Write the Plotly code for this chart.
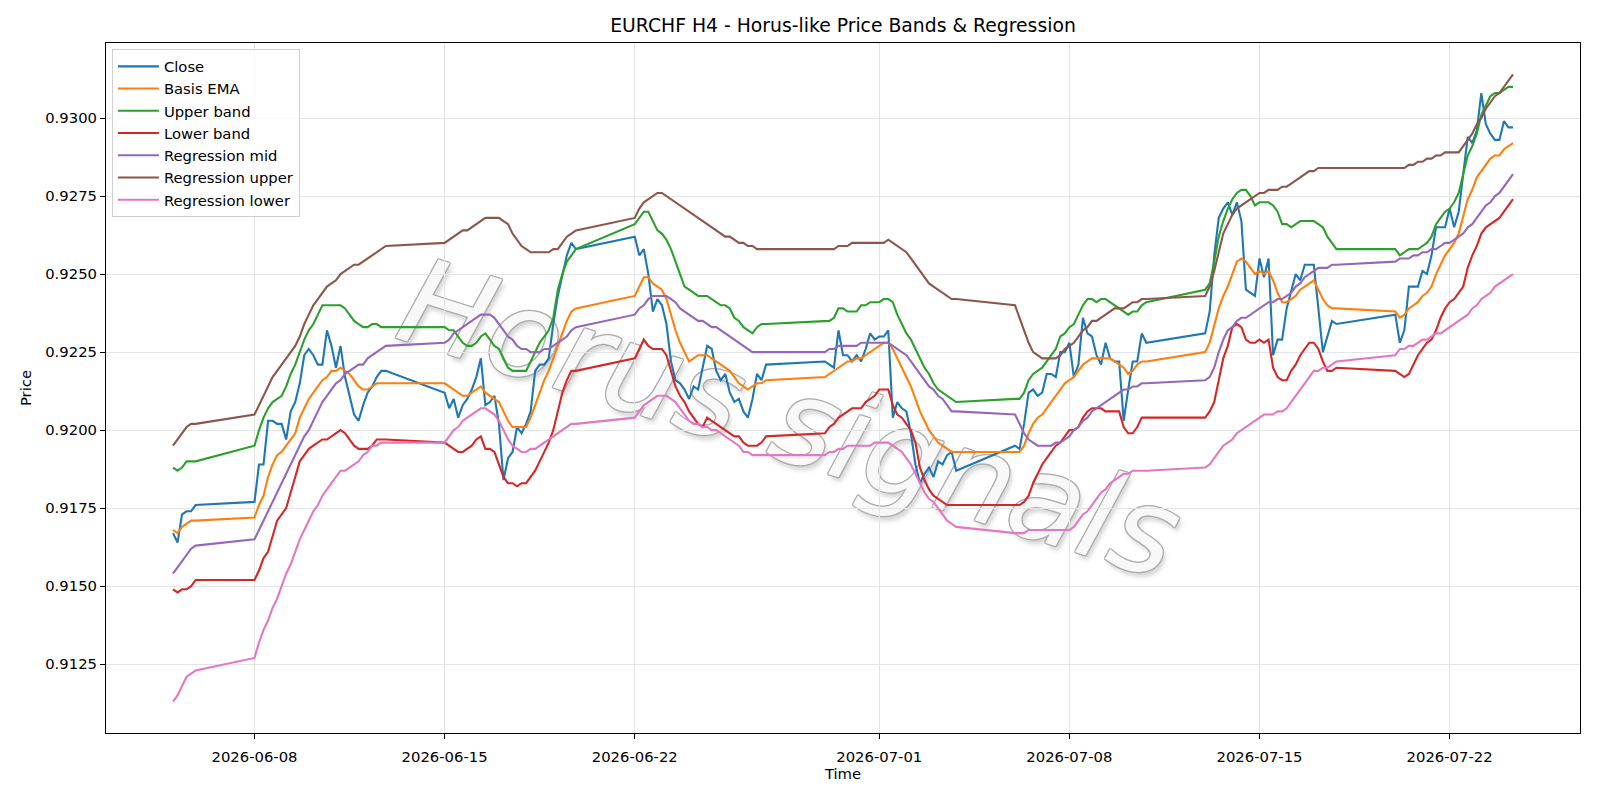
import pandas as pd
import plotly.graph_objects as go

# ---------------- data (EURCHF, H4 bars, weekdays only) ----------------
start_bar = "2026-06-05 00:00"
end_bar = "2026-07-24 08:00"

close = [
    0.9167, 0.9164, 0.9173, 0.9174, 0.9174, 0.9176,
    0.9177, 0.9189, 0.9189, 0.9203, 0.9203, 0.9202,
    0.9202, 0.9197, 0.9206, 0.9209, 0.9215, 0.9224,
    0.9226, 0.9224, 0.9221, 0.9221, 0.9232, 0.9227,
    0.9220, 0.9227, 0.9217, 0.9211, 0.9205, 0.9203,
    0.9208, 0.9212, 0.9214, 0.9217, 0.9219, 0.9219,
    0.9212, 0.9207, 0.9210, 0.9204, 0.9208, 0.9210,
    0.9213, 0.9217, 0.9223, 0.9208, 0.9209, 0.9211,
    0.9202, 0.9184, 0.9191, 0.9193, 0.9201, 0.9199,
    0.9202, 0.9206, 0.9219, 0.9221, 0.9221, 0.9223,
    0.9234, 0.9243, 0.9249, 0.9256, 0.9260, 0.9258,
    0.9262, 0.9256, 0.9258, 0.9250, 0.9238, 0.9242,
    0.9240, 0.9234, 0.9222, 0.9216, 0.9215, 0.9213,
    0.9210, 0.9214, 0.9213, 0.9220, 0.9227, 0.9226,
    0.9219, 0.9216, 0.9218, 0.9212, 0.9209, 0.9210,
    0.9206, 0.9204, 0.9210, 0.9218, 0.9216, 0.9221,
    0.9222, 0.9221, 0.9220, 0.9232, 0.9224, 0.9224,
    0.9222, 0.9224, 0.9222, 0.9226, 0.9231, 0.9229,
    0.9230, 0.9230, 0.9232, 0.9204, 0.9209, 0.9207,
    0.9206, 0.9199, 0.9189, 0.9183, 0.9186, 0.9188,
    0.9185, 0.9190, 0.9189, 0.9192, 0.9193, 0.9187,
    0.9195, 0.9194, 0.9202, 0.9212, 0.9213, 0.9211,
    0.9212, 0.9218, 0.9218, 0.9217, 0.9225, 0.9225,
    0.9228, 0.9217, 0.9221, 0.9236, 0.9231, 0.9230,
    0.9224, 0.9221, 0.9228, 0.9223, 0.9222, 0.9222,
    0.9203, 0.9213, 0.9222, 0.9222, 0.9231, 0.9228,
    0.9231, 0.9238, 0.9256, 0.9268, 0.9271, 0.9273,
    0.9269, 0.9273, 0.9267, 0.9245, 0.9244, 0.9243,
    0.9255, 0.9249, 0.9255, 0.9224, 0.9229, 0.9229,
    0.9239, 0.9245, 0.9250, 0.9248, 0.9253, 0.9253,
    0.9253, 0.9239, 0.9225, 0.9230, 0.9235, 0.9234,
    0.9237, 0.9228, 0.9232, 0.9246, 0.9246, 0.9246,
    0.9251, 0.9250, 0.9256, 0.9265, 0.9265, 0.9265,
    0.9271, 0.9265, 0.9270, 0.9282, 0.9294, 0.9292,
    0.9296, 0.9308, 0.9298, 0.9295, 0.9293, 0.9293,
    0.9299, 0.9297, 0.9297,
]

basis_ema = [
    0.9168, 0.9167, 0.9169, 0.9170, 0.9171, 0.9171,
    0.9172, 0.9176, 0.9179, 0.9185, 0.9189, 0.9192,
    0.9193, 0.9195, 0.9197, 0.9199, 0.9204, 0.9207,
    0.9210, 0.9212, 0.9214, 0.9216, 0.9217, 0.9219,
    0.9219, 0.9220, 0.9219, 0.9218, 0.9216, 0.9214,
    0.9213, 0.9213, 0.9214, 0.9215, 0.9215, 0.9215,
    0.9215, 0.9214, 0.9213, 0.9212, 0.9211, 0.9211,
    0.9212, 0.9213, 0.9214, 0.9212, 0.9211, 0.9210,
    0.9209, 0.9206, 0.9203, 0.9201, 0.9201, 0.9201,
    0.9201, 0.9204, 0.9208, 0.9212, 0.9216, 0.9219,
    0.9223, 0.9227, 0.9231, 0.9235, 0.9238, 0.9239,
    0.9243, 0.9246, 0.9249, 0.9249, 0.9247, 0.9246,
    0.9245, 0.9242, 0.9237, 0.9232, 0.9228, 0.9225,
    0.9222, 0.9223, 0.9224, 0.9224, 0.9224, 0.9223,
    0.9222, 0.9221, 0.9220, 0.9219, 0.9217, 0.9215,
    0.9214, 0.9213, 0.9214, 0.9215, 0.9215, 0.9216,
    0.9217, 0.9218, 0.9219, 0.9220, 0.9221, 0.9222,
    0.9222, 0.9223, 0.9223, 0.9224, 0.9225, 0.9226,
    0.9227, 0.9228, 0.9228, 0.9226, 0.9223, 0.9220,
    0.9217, 0.9214, 0.9210, 0.9206, 0.9203, 0.9200,
    0.9198, 0.9196, 0.9195, 0.9194, 0.9193, 0.9193,
    0.9193, 0.9193, 0.9195, 0.9199, 0.9202, 0.9204,
    0.9205, 0.9207, 0.9209, 0.9211, 0.9213, 0.9215,
    0.9216, 0.9217, 0.9219, 0.9221, 0.9222, 0.9223,
    0.9223, 0.9223, 0.9223, 0.9223, 0.9222, 0.9221,
    0.9220, 0.9218, 0.9219, 0.9221, 0.9222, 0.9222,
    0.9225, 0.9228, 0.9234, 0.9239, 0.9243, 0.9246,
    0.9250, 0.9254, 0.9255, 0.9254, 0.9252, 0.9250,
    0.9251, 0.9250, 0.9251, 0.9248, 0.9244, 0.9241,
    0.9241, 0.9242, 0.9243, 0.9245, 0.9246, 0.9247,
    0.9248, 0.9245, 0.9242, 0.9240, 0.9239, 0.9239,
    0.9238, 0.9236, 0.9237, 0.9239, 0.9240, 0.9241,
    0.9243, 0.9244, 0.9246, 0.9250, 0.9253, 0.9256,
    0.9258, 0.9260, 0.9263, 0.9269, 0.9274, 0.9277,
    0.9281, 0.9283, 0.9285, 0.9287, 0.9288, 0.9288,
    0.9290, 0.9291, 0.9292,
]

upper_band = [
    0.9188, 0.9187, 0.9188, 0.9190, 0.9190, 0.9190,
    0.9195, 0.9200, 0.9204, 0.9207, 0.9209, 0.9210,
    0.9211, 0.9214, 0.9218, 0.9221, 0.9225, 0.9229,
    0.9232, 0.9234, 0.9237, 0.9240, 0.9240, 0.9240,
    0.9240, 0.9240, 0.9239, 0.9237, 0.9235, 0.9234,
    0.9233, 0.9233, 0.9234, 0.9234, 0.9233, 0.9233,
    0.9233, 0.9232, 0.9232, 0.9230, 0.9228, 0.9227,
    0.9227, 0.9228, 0.9230, 0.9231, 0.9229, 0.9227,
    0.9226, 0.9223, 0.9220, 0.9219, 0.9219, 0.9219,
    0.9219, 0.9222, 0.9225, 0.9228, 0.9230, 0.9232,
    0.9236, 0.9245, 0.9250, 0.9254, 0.9256, 0.9258,
    0.9266, 0.9268, 0.9270, 0.9270, 0.9267, 0.9264,
    0.9263, 0.9261, 0.9258, 0.9254, 0.9250, 0.9246,
    0.9245, 0.9244, 0.9243, 0.9243, 0.9243, 0.9242,
    0.9241, 0.9240, 0.9240, 0.9239, 0.9236, 0.9235,
    0.9233, 0.9232, 0.9231, 0.9233, 0.9234, 0.9234,
    0.9235, 0.9235, 0.9236, 0.9239, 0.9239, 0.9238,
    0.9238, 0.9238, 0.9240, 0.9240, 0.9241, 0.9241,
    0.9241, 0.9242, 0.9242, 0.9241, 0.9237, 0.9234,
    0.9231, 0.9229, 0.9226, 0.9223, 0.9220, 0.9218,
    0.9215, 0.9213, 0.9212, 0.9211, 0.9210, 0.9209,
    0.9210, 0.9210, 0.9212, 0.9216, 0.9218, 0.9219,
    0.9220, 0.9222, 0.9224, 0.9226, 0.9230, 0.9231,
    0.9233, 0.9234, 0.9237, 0.9240, 0.9242, 0.9242,
    0.9241, 0.9242, 0.9242, 0.9241, 0.9240, 0.9239,
    0.9238, 0.9237, 0.9238, 0.9238, 0.9240, 0.9241,
    0.9245, 0.9247, 0.9254, 0.9262, 0.9267, 0.9271,
    0.9274, 0.9276, 0.9277, 0.9277, 0.9275, 0.9272,
    0.9273, 0.9273, 0.9273, 0.9272, 0.9270, 0.9266,
    0.9266, 0.9265, 0.9266, 0.9267, 0.9267, 0.9267,
    0.9267, 0.9266, 0.9265, 0.9262, 0.9260, 0.9258,
    0.9258, 0.9256, 0.9257, 0.9258, 0.9258, 0.9258,
    0.9259, 0.9260, 0.9262, 0.9266, 0.9268, 0.9270,
    0.9271, 0.9273, 0.9276, 0.9282, 0.9288, 0.9291,
    0.9295, 0.9301, 0.9304, 0.9307, 0.9308, 0.9308,
    0.9309, 0.9310, 0.9310,
]

lower_band = [
    0.9149, 0.9148, 0.9149, 0.9149, 0.9150, 0.9152,
    0.9152, 0.9155, 0.9159, 0.9161, 0.9166, 0.9171,
    0.9173, 0.9175, 0.9180, 0.9185, 0.9190, 0.9192,
    0.9194, 0.9195, 0.9196, 0.9197, 0.9197, 0.9198,
    0.9199, 0.9200, 0.9199, 0.9197, 0.9195, 0.9194,
    0.9194, 0.9194, 0.9195, 0.9197, 0.9197, 0.9197,
    0.9196, 0.9195, 0.9194, 0.9193, 0.9193, 0.9194,
    0.9195, 0.9197, 0.9198, 0.9194, 0.9194, 0.9193,
    0.9189, 0.9185, 0.9183, 0.9183, 0.9182, 0.9183,
    0.9183, 0.9185, 0.9187, 0.9190, 0.9193, 0.9196,
    0.9200, 0.9206, 0.9212, 0.9216, 0.9219, 0.9219,
    0.9223, 0.9226, 0.9229, 0.9227, 0.9226, 0.9226,
    0.9226, 0.9224, 0.9219, 0.9214, 0.9211, 0.9209,
    0.9206, 0.9204, 0.9202, 0.9201, 0.9204, 0.9203,
    0.9202, 0.9201, 0.9200, 0.9199, 0.9198, 0.9198,
    0.9196, 0.9195, 0.9195, 0.9195, 0.9196, 0.9198,
    0.9199, 0.9201, 0.9202, 0.9204, 0.9205, 0.9206,
    0.9207, 0.9207, 0.9207, 0.9209, 0.9210, 0.9211,
    0.9213, 0.9213, 0.9213, 0.9208, 0.9205, 0.9204,
    0.9202, 0.9200, 0.9196, 0.9188, 0.9184, 0.9181,
    0.9179, 0.9178, 0.9177, 0.9176, 0.9176, 0.9176,
    0.9176, 0.9176, 0.9177, 0.9179, 0.9183, 0.9186,
    0.9189, 0.9191, 0.9193, 0.9195, 0.9196, 0.9198,
    0.9200, 0.9200, 0.9201, 0.9204, 0.9206, 0.9207,
    0.9207, 0.9207, 0.9206, 0.9206, 0.9206, 0.9206,
    0.9201, 0.9199, 0.9199, 0.9201, 0.9204, 0.9204,
    0.9204, 0.9206, 0.9209, 0.9216, 0.9223, 0.9227,
    0.9233, 0.9234, 0.9233, 0.9229, 0.9228, 0.9228,
    0.9229, 0.9228, 0.9229, 0.9220, 0.9217, 0.9216,
    0.9216, 0.9219, 0.9221, 0.9224, 0.9226, 0.9228,
    0.9228, 0.9226, 0.9222, 0.9219, 0.9219, 0.9220,
    0.9219, 0.9218, 0.9217, 0.9218, 0.9221, 0.9224,
    0.9226, 0.9228, 0.9229, 0.9232, 0.9236, 0.9239,
    0.9241, 0.9242, 0.9244, 0.9246, 0.9252, 0.9256,
    0.9259, 0.9263, 0.9265, 0.9266, 0.9267, 0.9268,
    0.9270, 0.9272, 0.9274,
]

regression_mid = [
    0.9154, 0.9156, 0.9158, 0.9160, 0.9162, 0.9163,
    0.9165, 0.9168, 0.9171, 0.9174, 0.9177, 0.9180,
    0.9183, 0.9186, 0.9189, 0.9192, 0.9195, 0.9198,
    0.9200, 0.9203, 0.9206, 0.9209, 0.9211, 0.9213,
    0.9215, 0.9216, 0.9218, 0.9219, 0.9220, 0.9221,
    0.9221, 0.9223, 0.9224, 0.9225, 0.9226, 0.9227,
    0.9228, 0.9229, 0.9231, 0.9232, 0.9233, 0.9234,
    0.9235, 0.9236, 0.9237, 0.9237, 0.9237, 0.9236,
    0.9234, 0.9232, 0.9230, 0.9229, 0.9227, 0.9226,
    0.9226, 0.9225, 0.9225, 0.9225, 0.9226, 0.9226,
    0.9227, 0.9228, 0.9229, 0.9230, 0.9232, 0.9233,
    0.9237, 0.9239, 0.9240, 0.9242, 0.9243, 0.9243,
    0.9243, 0.9243, 0.9242, 0.9241, 0.9239, 0.9238,
    0.9237, 0.9236, 0.9235, 0.9235, 0.9234, 0.9233,
    0.9233, 0.9232, 0.9231, 0.9230, 0.9229, 0.9228,
    0.9227, 0.9226, 0.9225, 0.9225, 0.9225, 0.9225,
    0.9225, 0.9226, 0.9226, 0.9227, 0.9227, 0.9227,
    0.9227, 0.9227, 0.9228, 0.9228, 0.9228, 0.9228,
    0.9228, 0.9228, 0.9228, 0.9227, 0.9226, 0.9225,
    0.9224, 0.9222, 0.9220, 0.9218, 0.9216, 0.9214,
    0.9213, 0.9211, 0.9210, 0.9208, 0.9206, 0.9206,
    0.9205, 0.9202, 0.9199, 0.9197, 0.9196, 0.9195,
    0.9195, 0.9195, 0.9195, 0.9196, 0.9196, 0.9197,
    0.9198, 0.9200, 0.9201, 0.9203, 0.9204, 0.9206,
    0.9207, 0.9208, 0.9209, 0.9210, 0.9211, 0.9212,
    0.9213, 0.9213, 0.9214, 0.9214, 0.9215, 0.9215,
    0.9216, 0.9217, 0.9220, 0.9225, 0.9229, 0.9232,
    0.9233, 0.9235, 0.9236, 0.9236, 0.9237, 0.9238,
    0.9239, 0.9240, 0.9241, 0.9241, 0.9242, 0.9242,
    0.9243, 0.9244, 0.9246, 0.9247, 0.9249, 0.9250,
    0.9251, 0.9252, 0.9252, 0.9252, 0.9253, 0.9253,
    0.9254, 0.9255, 0.9255, 0.9255, 0.9256, 0.9256,
    0.9257, 0.9257, 0.9258, 0.9258, 0.9259, 0.9260,
    0.9260, 0.9261, 0.9262, 0.9263, 0.9265, 0.9266,
    0.9268, 0.9270, 0.9272, 0.9273, 0.9275, 0.9276,
    0.9278, 0.9280, 0.9282,
]

regression_upper = [
    0.9195, 0.9197, 0.9199, 0.9201, 0.9202, 0.9202,
    0.9205, 0.9208, 0.9211, 0.9214, 0.9217, 0.9219,
    0.9221, 0.9223, 0.9225, 0.9227, 0.9230, 0.9234,
    0.9237, 0.9240, 0.9242, 0.9244, 0.9246, 0.9247,
    0.9248, 0.9250, 0.9251, 0.9252, 0.9253, 0.9253,
    0.9254, 0.9255, 0.9256, 0.9257, 0.9258, 0.9259,
    0.9260, 0.9261, 0.9262, 0.9263, 0.9264, 0.9264,
    0.9265, 0.9266, 0.9267, 0.9268, 0.9268, 0.9268,
    0.9268, 0.9267, 0.9266, 0.9263, 0.9261, 0.9259,
    0.9258, 0.9257, 0.9257, 0.9257, 0.9257, 0.9257,
    0.9258, 0.9258, 0.9260, 0.9262, 0.9263, 0.9264,
    0.9268, 0.9271, 0.9273, 0.9274, 0.9275, 0.9276,
    0.9276, 0.9275, 0.9274, 0.9273, 0.9272, 0.9271,
    0.9270, 0.9269, 0.9268, 0.9267, 0.9266, 0.9265,
    0.9264, 0.9263, 0.9262, 0.9262, 0.9261, 0.9260,
    0.9260, 0.9259, 0.9259, 0.9258, 0.9258, 0.9258,
    0.9258, 0.9258, 0.9258, 0.9259, 0.9259, 0.9259,
    0.9260, 0.9260, 0.9260, 0.9260, 0.9260, 0.9260,
    0.9260, 0.9260, 0.9261, 0.9260, 0.9259, 0.9258,
    0.9257, 0.9255, 0.9253, 0.9251, 0.9249, 0.9247,
    0.9246, 0.9245, 0.9244, 0.9243, 0.9242, 0.9242,
    0.9240, 0.9236, 0.9232, 0.9228, 0.9225, 0.9224,
    0.9223, 0.9223, 0.9223, 0.9223, 0.9224, 0.9226,
    0.9227, 0.9228, 0.9230, 0.9232, 0.9233, 0.9235,
    0.9235, 0.9236, 0.9237, 0.9238, 0.9239, 0.9239,
    0.9239, 0.9240, 0.9241, 0.9241, 0.9242, 0.9242,
    0.9243, 0.9246, 0.9251, 0.9257, 0.9263, 0.9266,
    0.9269, 0.9271, 0.9272, 0.9273, 0.9274, 0.9275,
    0.9276, 0.9276, 0.9277, 0.9277, 0.9277, 0.9278,
    0.9278, 0.9279, 0.9280, 0.9281, 0.9282, 0.9283,
    0.9283, 0.9284, 0.9284, 0.9284, 0.9284, 0.9284,
    0.9284, 0.9284, 0.9284, 0.9285, 0.9285, 0.9286,
    0.9286, 0.9287, 0.9287, 0.9288, 0.9288, 0.9289,
    0.9289, 0.9289, 0.9289, 0.9291, 0.9293, 0.9295,
    0.9298, 0.9300, 0.9303, 0.9305, 0.9307, 0.9308,
    0.9310, 0.9312, 0.9314,
]

regression_lower = [
    0.9113, 0.9115, 0.9118, 0.9121, 0.9122, 0.9123,
    0.9127, 0.9132, 0.9136, 0.9139, 0.9143, 0.9146,
    0.9150, 0.9154, 0.9157, 0.9161, 0.9165, 0.9168,
    0.9171, 0.9174, 0.9176, 0.9179, 0.9181, 0.9183,
    0.9185, 0.9187, 0.9187, 0.9188, 0.9189, 0.9190,
    0.9192, 0.9193, 0.9195, 0.9195, 0.9196, 0.9196,
    0.9196, 0.9198, 0.9200, 0.9201, 0.9203, 0.9204,
    0.9205, 0.9206, 0.9207, 0.9207, 0.9206, 0.9205,
    0.9203, 0.9200, 0.9197, 0.9195, 0.9194, 0.9193,
    0.9193, 0.9194, 0.9194, 0.9195, 0.9196, 0.9197,
    0.9198, 0.9199, 0.9200, 0.9201, 0.9202, 0.9202,
    0.9204, 0.9206, 0.9208, 0.9209, 0.9210, 0.9211,
    0.9211, 0.9211, 0.9210, 0.9209, 0.9207, 0.9205,
    0.9203, 0.9202, 0.9202, 0.9201, 0.9201, 0.9200,
    0.9200, 0.9199, 0.9198, 0.9197, 0.9196, 0.9195,
    0.9193, 0.9193, 0.9192, 0.9192, 0.9192, 0.9192,
    0.9192, 0.9193, 0.9193, 0.9194, 0.9194, 0.9195,
    0.9195, 0.9195, 0.9195, 0.9195, 0.9195, 0.9196,
    0.9196, 0.9196, 0.9196, 0.9195, 0.9194, 0.9193,
    0.9191, 0.9189, 0.9186, 0.9183, 0.9180, 0.9178,
    0.9177, 0.9175, 0.9173, 0.9171, 0.9170, 0.9169,
    0.9167, 0.9167, 0.9167, 0.9168, 0.9168, 0.9168,
    0.9168, 0.9168, 0.9168, 0.9168, 0.9168, 0.9168,
    0.9168, 0.9169, 0.9171, 0.9173, 0.9174, 0.9176,
    0.9178, 0.9180, 0.9181, 0.9183, 0.9184, 0.9185,
    0.9186, 0.9186, 0.9187, 0.9187, 0.9187, 0.9187,
    0.9188, 0.9189, 0.9191, 0.9193, 0.9195, 0.9196,
    0.9197, 0.9199, 0.9200, 0.9201, 0.9202, 0.9203,
    0.9204, 0.9205, 0.9205, 0.9205, 0.9206, 0.9206,
    0.9207, 0.9209, 0.9211, 0.9213, 0.9215, 0.9217,
    0.9219, 0.9219, 0.9220, 0.9220, 0.9221, 0.9222,
    0.9224, 0.9226, 0.9226, 0.9227, 0.9227, 0.9228,
    0.9229, 0.9229, 0.9230, 0.9231, 0.9231, 0.9232,
    0.9233, 0.9234, 0.9235, 0.9236, 0.9237, 0.9239,
    0.9240, 0.9242, 0.9243, 0.9244, 0.9246, 0.9247,
    0.9248, 0.9249, 0.9250,
]

series_names = ["Close", "Basis EMA", "Upper band", "Lower band",
                "Regression mid", "Regression upper", "Regression lower"]
series_values = [close, basis_ema, upper_band, lower_band,
                 regression_mid, regression_upper, regression_lower]
series_colors = ["#1f77b4", "#ff7f0e", "#2ca02c", "#d62728",
                 "#9467bd", "#8c564b", "#e377c2"]

x_tick_dates = ["2026-06-08", "2026-06-15", "2026-06-22", "2026-07-01",
                "2026-07-08", "2026-07-15", "2026-07-22"]
y_tick_values = [0.9125, 0.9150, 0.9175, 0.9200, 0.9225, 0.9250, 0.9275, 0.9300]

title_text = "EURCHF H4 - Horus-like Price Bands & Regression"
watermark_text = "Horus signals"

# ---------------- time axis ----------------
times = pd.date_range(start_bar, end_bar, freq="4h")
times = times[times.dayofweek < 5]
n = len(times)
for nm, vals in zip(series_names, series_values):
    if len(vals) != n:
        raise ValueError(f"{nm}: {len(vals)} values vs {n} bars")

FONT = "DejaVu Sans"
FS = 14.8
fig = go.Figure()
for nm, vals, col in zip(series_names, series_values, series_colors):
    fig.add_trace(go.Scatter(x=times, y=vals, mode="lines", name=nm,
                             line=dict(color=col, width=2.1)))

t0, t1 = times[0], times[-1]
span = t1 - t0
x_range = [t0 - 0.05 * span, t1 + 0.05 * span]
all_vals = [v for vals in series_values for v in vals]
ymin, ymax = min(all_vals), max(all_vals)
pad = 0.05 * (ymax - ymin)
y_range = [ymin - pad, ymax + pad]

axis_common = dict(
    showline=True, mirror=True, linecolor="black", linewidth=1.1,
    ticks="outside", ticklen=5, tickwidth=1.1, tickcolor="black",
    showgrid=True, gridcolor="#e4e4e4", gridwidth=1, zeroline=False,
    tickfont=dict(family=FONT, size=FS, color="black"),
)

fig.update_layout(
    width=1600, height=800,
    margin=dict(l=106, r=20, t=43, b=67),
    paper_bgcolor="white", plot_bgcolor="white",
    font=dict(family=FONT, size=FS, color="black"),
    title=dict(text=title_text, x=0.5, xref="paper", xanchor="center", y=0.968,
               yanchor="middle", font=dict(family=FONT, size=18.8, color="black")),
    xaxis=dict(type="date", range=x_range, tickvals=x_tick_dates,
               ticktext=x_tick_dates, ticklabelstandoff=5,
               title=dict(text="Time", font=dict(family=FONT, size=FS), standoff=2),
               **axis_common),
    yaxis=dict(range=y_range, tickvals=y_tick_values,
               ticktext=[f"{v:.4f}" for v in y_tick_values],
               title=dict(text="Price", font=dict(family=FONT, size=FS), standoff=10),
               **axis_common),
    legend=dict(x=0.004, y=0.991, xanchor="left", yanchor="top", itemwidth=41,
                bgcolor="rgba(255,255,255,0.85)", bordercolor="#d0d0d0",
                borderwidth=1, font=dict(family=FONT, size=FS, color="black")),
    showlegend=True,
)

# watermark: outlined italic text drawn beneath the data lines
edge = "rgba(172,172,172,0.85)"
outline = ", ".join(f"{dx}px {dy}px 0 {edge}" for dx, dy in
                    [(-1, -1), (1, -1), (-1, 1), (1, 1), (0, 1.3), (1.3, 0), (0, -1.3), (-1.3, 0)])
fig.add_shape(
    type="rect", xref="paper", yref="paper",
    x0=0.266, x1=0.666, y0=0.368, y1=0.568,
    line=dict(width=0), fillcolor="rgba(0,0,0,0)", layer="below",
    label=dict(text=watermark_text, textangle=17.5, textposition="middle center",
               font=dict(family=FONT, size=120, color="rgb(248,248,248)",
                         style="italic",
                         shadow=outline + ", 4px 4px 4px rgba(120,120,120,0.3)")),
)

fig.write_html("out.html")
